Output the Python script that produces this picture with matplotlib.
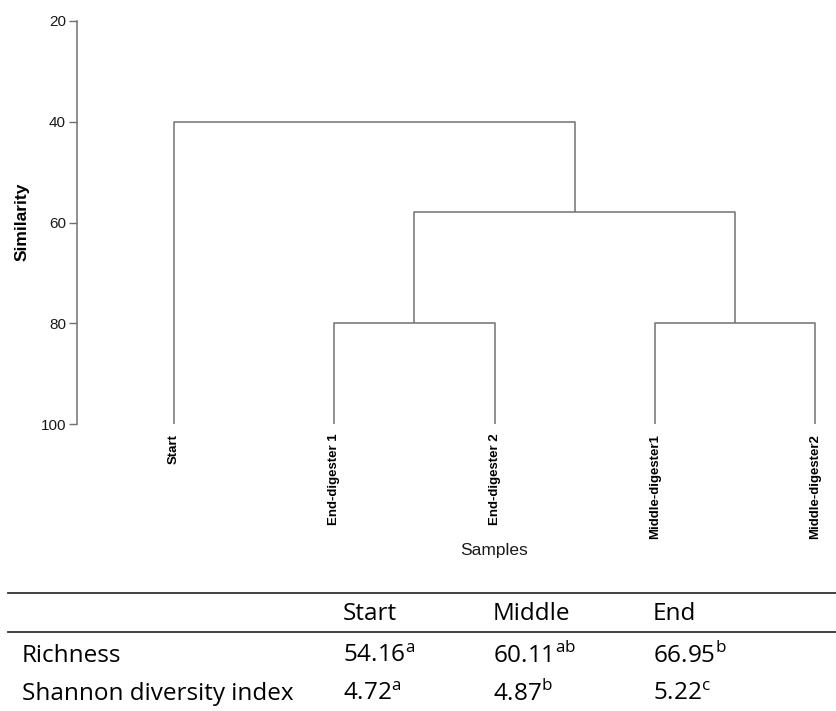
import matplotlib
matplotlib.use("Agg")
import matplotlib.pyplot as plt
from matplotlib.lines import Line2D

plt.rcParams["font.family"] = ["Liberation Sans", "DejaVu Sans"]
plt.rcParams["mathtext.fontset"] = "custom"
plt.rcParams["mathtext.rm"] = "Open Sans"

# dendrogram data
leaves = ["Start", "End-digester 1", "End-digester 2", "Middle-digester1", "Middle-digester2"]
# merges: (child a, child b, similarity); new cluster ids follow the leaves
merges = [(1, 2, 80.0), (3, 4, 80.0), (5, 6, 58.0), (0, 7, 40.0)]
yticks = [20, 40, 60, 80, 100]

# diversity table
tbl_cols = ["Start", "Middle", "End"]
tbl_rows = ["Richness", "Shannon diversity index"]
richness = ["54.16", "60.11", "66.95"]
richness_sup = ["a", "ab", "b"]
shannon = ["4.72", "4.87", "5.22"]
shannon_sup = ["a", "b", "c"]

W, H = 836, 711
fig = plt.figure(figsize=(W / 100, H / 100), dpi=100)
ax = fig.add_axes([77 / W, (H - 424) / H, (W - 77) / W, (424 - 21) / H])

line_col = "#707070"
xs = {i: float(i) for i in range(len(leaves))}
ys = {i: 100.0 for i in range(len(leaves))}
nid = len(leaves)
for a, b, h in merges:
    ax.plot([xs[a], xs[a], xs[b], xs[b]], [ys[a], h, h, ys[b]],
            color=line_col, lw=1.1, solid_capstyle="butt")
    xs[nid] = (xs[a] + xs[b]) / 2
    ys[nid] = h
    nid += 1

ax.set_ylim(100, 20)
ax.set_xlim(-0.605, 4.13)
ax.set_yticks(yticks)
ax.set_yticklabels([str(t) for t in yticks], fontsize=11, color="#1a1a1a")
ax.tick_params(axis="y", length=6, width=1, color=line_col, pad=2)
ax.set_xticks(range(len(leaves)))
ax.set_xticklabels(leaves, rotation=90, fontsize=9.5, fontweight="bold", va="top")
ax.tick_params(axis="x", length=0, pad=7)
for s in ["top", "right", "bottom"]:
    ax.spines[s].set_visible(False)
ax.spines["left"].set_color(line_col)
ax.spines["left"].set_linewidth(1.1)
ax.patch.set_alpha(0)

fig.text(22 / W, 1 - 222 / H, "Similarity", rotation=90, fontsize=12.5,
         fontweight="bold", ha="center", va="center")
fig.text(494 / W, 1 - 550 / H, "Samples", fontsize=12.5, ha="center", va="center", color="#1a1a1a")

# table
tfont = "Open Sans"
tsize = 17.5
fig.add_artist(Line2D([8 / W, 1.0], [1 - 593 / H] * 2, color="#333", lw=1.3))
fig.add_artist(Line2D([8 / W, 1.0], [1 - 632 / H] * 2, color="#333", lw=1.3))
col_x = [343, 493, 653]
for cx, c in zip(col_x, tbl_cols):
    fig.text(cx / W, 1 - 614 / H, c, fontsize=tsize, family=tfont, ha="left", va="center")
row_y = [656, 694]
for ry, r in zip(row_y, tbl_rows):
    fig.text(22 / W, 1 - ry / H, r, fontsize=tsize, family=tfont, ha="left", va="center")
for vals, sups, ry in [(richness, richness_sup, row_y[0]), (shannon, shannon_sup, row_y[1])]:
    for cx, v, s in zip(col_x, vals, sups):
        fig.text(cx / W, 1 - ry / H, v + r"$^{\mathrm{" + s + "}}$", fontsize=tsize,
                 family=tfont, ha="left", va="center")

fig.savefig("out.png", dpi=100)
